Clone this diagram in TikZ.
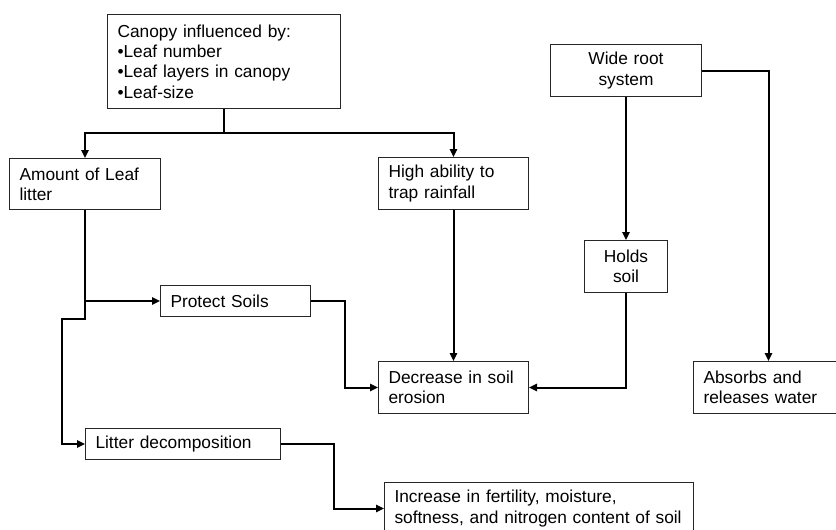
\documentclass[tikz,border=0pt]{standalone}
\usepackage{fontspec}
\setmainfont{Liberation Sans}
\usepackage{xcolor}
\usepackage{tikz}
\usetikzlibrary{arrows.meta}

\tikzset{
  box/.style={draw=black!85, line width=0.75pt, rectangle, anchor=north west,
    inner xsep=7.5pt, inner ysep=0pt, align=left,
    font=\fontsize{13pt}{15.25pt}\selectfont},
  link/.style={line width=1.5pt, -{Triangle[length=6pt,width=5.5pt]}},
  wire/.style={line width=1.5pt},
}

\begin{document}
\begin{tikzpicture}[x=0.75pt,y=0.75pt,yscale=-1,xscale=1]
\useasboundingbox (0,0) rectangle (836,529); %diagram is 836 x 529

% Boxes
\node[box, text width=159.75pt, minimum height=70.5pt] (canopy) at (107,14) {Canopy influenced by:\\•Leaf number\\•Leaf layers in canopy\\•Leaf-size};
\node[box, text width=98.25pt, minimum height=38.25pt] (amount) at (9,158) {Amount of Leaf\\litter};
\node[box, text width=97.5pt, minimum height=39pt] (high) at (378,157) {High ability to\\trap rainfall};
\node[box, text width=98.25pt, minimum height=39pt, align=center] (wide) at (550,44) {Wide root\\system};
\node[box, text width=47.25pt, minimum height=39pt, align=center] (holds) at (584,240) {Holds\\soil};
\node[box, text width=97.5pt, minimum height=23.25pt] (protect) at (160,285) {Protect Soils};
\node[box, text width=97.5pt, minimum height=39pt] (decrease) at (378,361) {Decrease in soil\\erosion};
\node[box, text width=97.5pt, minimum height=39pt] (absorbs) at (693,361) {Absorbs and\\releases water};
\node[box, text width=131.25pt, minimum height=23.25pt] (litter) at (85,428) {Litter decomposition};
\node[box, text width=216.75pt, minimum height=39pt] (increase) at (384,482) {Increase in fertility, moisture,\\softness, and nitrogen content of soil};

% Canopy branches
\coordinate (bus) at (canopy.south |- 0,133);
\draw[wire] (canopy.south) -- (bus);
\draw[link] (bus) -| (amount.north);
\draw[link] (bus) -| (high.north);

% Leaf litter branches
\coordinate (jog) at (62,319);
\draw[link] (amount.south) |- (jog) |- (litter.west);
\draw[link] (amount.south |- protect.west) -- (protect.west);
\draw[link] (protect.east) -- ++(34,0) |- (decrease.west);
\draw[link] (high.south) -- (decrease.north);
\draw[link] (litter.east) -- ++(53,0) |- (increase.west);

% Root branches
\draw[link] (wide.south) -- (holds.north);
\draw[link] (holds.south) |- (decrease.east);
\draw[link] (wide.east) -| (absorbs.north);

\end{tikzpicture}
\end{document}
